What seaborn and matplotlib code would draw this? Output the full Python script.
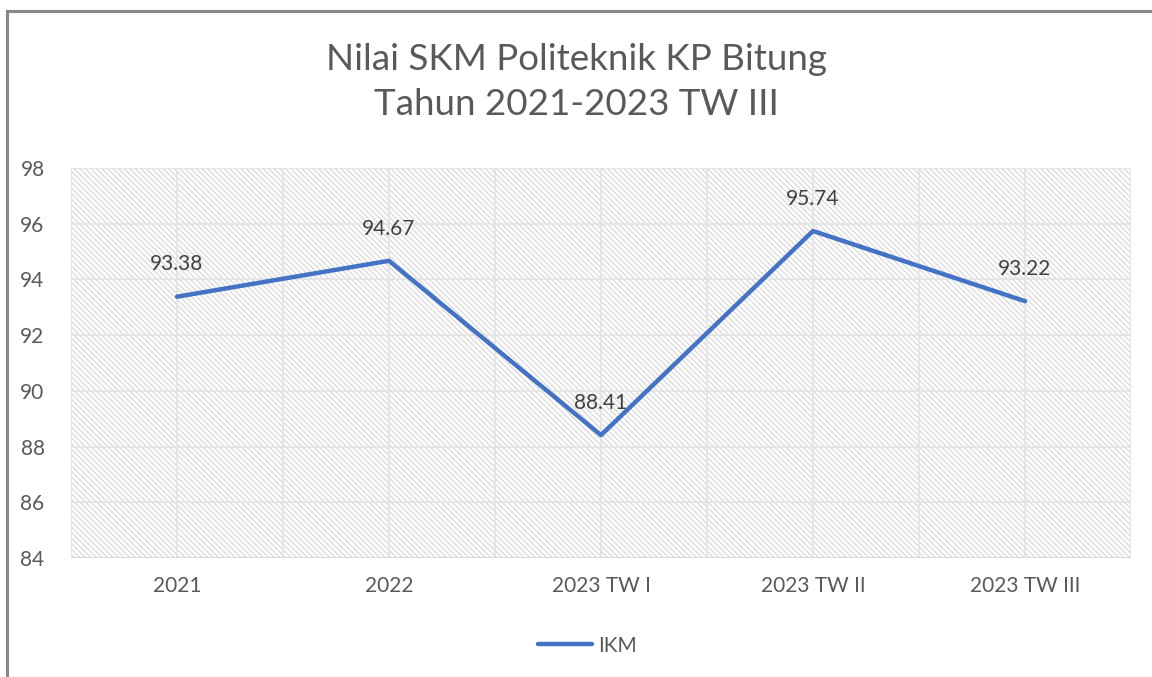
import matplotlib
matplotlib.use('Agg')
import matplotlib.pyplot as plt
from matplotlib.patches import Rectangle
import seaborn as sns
import pandas as pd

categories = ['2021', '2022', '2023 TW I', '2023 TW II', '2023 TW III']
ikm = [93.38, 94.67, 88.41, 95.74, 93.22]
y_ticks = [84, 86, 88, 90, 92, 94, 96, 98]
title_lines = ['Nilai SKM Politeknik KP Bitung', 'Tahun 2021-2023 TW III']
series_name = 'IKM'

sns.set_theme(style='white')
plt.rcParams['font.family'] = ['Lato', 'DejaVu Sans']
plt.rcParams['hatch.color'] = '#d9d9d9'
plt.rcParams['hatch.linewidth'] = 1.0

text_gray = '#595959'
grid_gray = '#e3e3e3'

df = pd.DataFrame({'category': categories, series_name: ikm})

fig = plt.figure(figsize=(11.52, 6.77), dpi=100)
ax = fig.add_axes([0.0616, 0.1758, 0.9202, 0.576])

# hatched plot background
ax.add_patch(Rectangle((0, 0), 1, 1, transform=ax.transAxes, facecolor='white',
                       edgecolor='#dcdcdc', hatch='\\\\\\\\\\\\', linewidth=0, zorder=0))

sns.lineplot(data=df, x='category', y=series_name, ax=ax, color='#4472C4',
             linewidth=3.2, label=series_name, sort=False, zorder=3)

ax.set_xlim(-0.5, len(categories) - 0.5)
ax.set_ylim(y_ticks[0], y_ticks[-1])
ax.set_yticks(y_ticks)
ax.set_xticks(range(len(categories)))
ax.set_xticklabels(categories)

# gridlines on categories and between them
for x in [i * 0.5 - 0.5 for i in range(2 * len(categories) + 1)]:
    ax.axvline(x, color=grid_gray, linewidth=1.2, zorder=1)
for y in y_ticks:
    ax.axhline(y, color=grid_gray, linewidth=1.2, zorder=1)

for s in ax.spines.values():
    s.set_visible(False)
ax.axhline(y_ticks[0], color='#d9d9d9', linewidth=1.5, zorder=2)

ax.tick_params(axis='both', length=0, labelsize=15, labelcolor=text_gray)
ax.tick_params(axis='x', pad=13)
ax.tick_params(axis='y', pad=19)
ax.set_xlabel('')
ax.set_ylabel('')

for i, v in enumerate(ikm):
    ax.annotate(f'{v:.2f}', (i, v), xytext=(0, 16), textcoords='offset points',
                ha='center', va='bottom', fontsize=15, color='#404040', zorder=4)

fig.text(0.5, 0.912, title_lines[0], ha='center', va='center', fontsize=26.5, color=text_gray)
fig.text(0.5, 0.845, title_lines[1], ha='center', va='center', fontsize=26.5, color=text_gray)

leg = ax.legend(loc='center', bbox_to_anchor=(0.487, -0.225), frameon=False,
                fontsize=15, handlelength=2.6, handletextpad=0.3)
for t in leg.get_texts():
    t.set_color(text_gray)

# chart border
fig.patches.append(Rectangle((0.0065, -0.1), 1.2, 1.0838, transform=fig.transFigure,
                             fill=False, edgecolor='#888888', linewidth=2.2))

fig.savefig('out.png', dpi=100)
